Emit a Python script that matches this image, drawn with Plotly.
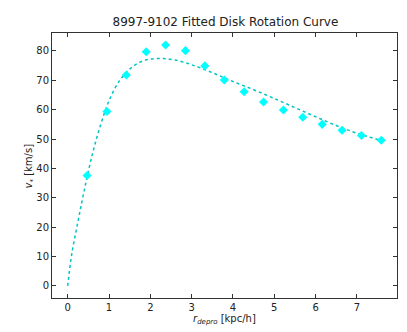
import plotly.graph_objects as go

# measured rotation velocities
r_data = [0.47, 0.95, 1.42, 1.90, 2.37, 2.85, 3.32, 3.79, 4.27, 4.74, 5.22, 5.69, 6.16, 6.64, 7.11, 7.59]
v_data = [37.6, 59.4, 71.8, 79.7, 82.0, 80.1, 74.9, 70.1, 66.1, 62.6, 59.9, 57.4, 55.0, 53.0, 51.2, 49.6]

# fitted disk curve
r_fit = [0, 0.1, 0.25, 0.4, 0.6, 0.8, 1.0, 1.25, 1.5, 1.75, 2.0, 2.3, 2.6, 3.0, 3.5, 4.0, 4.5, 5.0, 5.5, 6.0, 6.5, 7.0, 7.59]
v_fit = [0, 11, 22, 32.5, 45, 55, 63, 69.8, 73.8, 76.2, 77.2, 77.4, 76.9, 75.3, 72.6, 69.6, 66.8, 63.8, 60.7, 57.6, 54.6, 52.0, 49.5]

fig = go.Figure()
fig.add_trace(go.Scatter(
    x=r_fit, y=v_fit, mode='lines', line_shape='spline',
    line=dict(color='#00C4C4', width=1.5, dash='dot'),
))
fig.add_trace(go.Scatter(
    x=r_data, y=v_data, mode='markers',
    marker=dict(symbol='diamond', size=7, color='#00FFFF'),
))

axis_style = dict(
    showgrid=False, zeroline=False, showline=True, linecolor='#333333', linewidth=1,
    mirror='ticks', ticks='inside', ticklen=4, tickcolor='#333333',
    tickfont=dict(size=10, color='#222222'), automargin=False,
)
# page body has an 8px margin, so the figure is sized to fit the window
fig.update_layout(
    width=399, height=324,
    margin=dict(l=44, r=10, t=25, b=34, autoexpand=False),
    plot_bgcolor='white', paper_bgcolor='white',
    showlegend=False,
    font=dict(family='DejaVu Sans', color='#222222'),
    title=dict(text='8997-9102 Fitted Disk Rotation Curve', x=0.545, xanchor='center',
               y=0.958, yanchor='middle', font=dict(size=12)),
    xaxis=dict(range=[-0.38, 7.97], dtick=1, **axis_style),
    yaxis=dict(range=[-4.1, 86.1], dtick=10, **axis_style),
)
# axis labels placed as annotations
fig.add_annotation(text='<i>r</i><sub><i>depro</i></sub> [kpc/h]', xref='paper', yref='paper',
                   x=0.5, y=-0.082, xanchor='center', yanchor='middle',
                   showarrow=False, font=dict(size=10))
fig.add_annotation(text='<i>v</i><sub>*</sub> [km/s]', xref='paper', yref='paper',
                   x=-0.064, y=0.5, xanchor='center', yanchor='middle', textangle=-90,
                   showarrow=False, font=dict(size=10))
fig.write_html("out.html")
